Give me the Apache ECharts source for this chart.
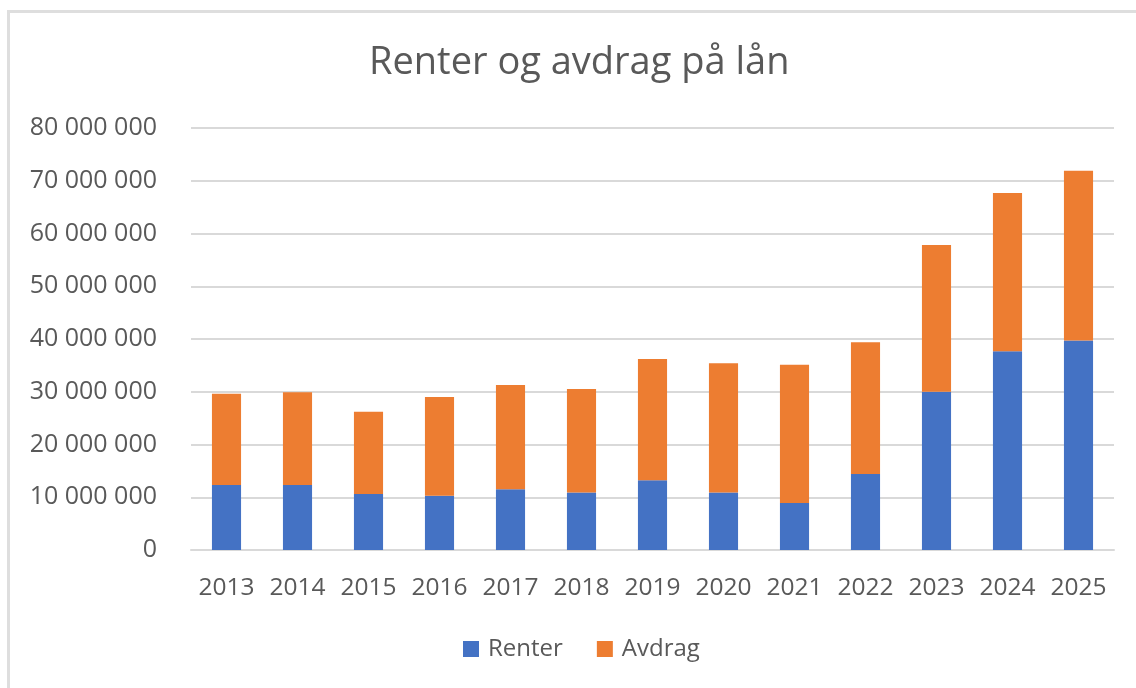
<!DOCTYPE html>
<html>
<head>
<meta charset="utf-8">
<script src="https://cdn.jsdelivr.net/npm/echarts@6/dist/echarts.min.js"></script>
<style>
  html, body { margin: 0; padding: 0; background: #fff; }
  #frame {
    position: absolute; left: 7px; top: 10px; width: 1200px; height: 700px;
    border-top: 3px solid #dedede; border-left: 3px solid #dedede;
  }
  #chart { position: absolute; left: 0; top: 0; width: 1136px; height: 688px; }
</style>
</head>
<body>
<div id="frame"></div>
<div id="chart"></div>
<script>
const years = ["2013", "2014", "2015", "2016", "2017", "2018", "2019", "2020", "2021", "2022", "2023", "2024", "2025"]
const renter = [12.3, 12.3, 10.6, 10.3, 11.5, 10.9, 13.2, 10.9, 8.9, 14.4, 30.0, 37.7, 39.7].map(v => v * 1e6)
const avdrag = [17.3, 17.6, 15.6, 18.7, 19.8, 19.6, 23.0, 24.5, 26.2, 25.0, 27.8, 30.0, 32.2].map(v => v * 1e6)

const font = "'Open Sans', 'DejaVu Sans', sans-serif"
const grey = "#595959"

// tall med mellomrom som tusenskille
function fmt(v) {
  return String(v).replace(/\B(?=(\d{3})+(?!\d))/g, " ")
}

const chart = echarts.init(document.getElementById("chart"))
chart.setOption({
  backgroundColor: "transparent",
  animation: false,
  title: {
    text: "Renter og avdrag på lån",
    left: 364,
    top: 39,
    textStyle: { fontFamily: font, fontSize: 38, fontWeight: "normal", color: grey }
  },
  legend: {
    data: ["Renter", "Avdrag"],
    bottom: 22,
    left: 458,
    icon: "rect",
    itemWidth: 16,
    itemHeight: 16,
    itemGap: 34,
    textStyle: { fontFamily: font, fontSize: 24, color: grey, padding: [0, 0, 0, 4] }
  },
  grid: { left: 191, right: 22, top: 128, bottom: 138 },
  xAxis: {
    type: "category",
    data: years,
    axisLine: { lineStyle: { color: "#d9d9d9", width: 2 } },
    axisTick: { show: false },
    axisLabel: { fontFamily: font, fontSize: 24.5, color: grey, margin: 26, interval: 0 }
  },
  yAxis: {
    type: "value",
    min: 0,
    max: 80000000,
    interval: 10000000,
    axisLine: { show: false },
    axisTick: { show: false },
    splitLine: { lineStyle: { color: "#d9d9d9", width: 2 } },
    axisLabel: { fontFamily: font, fontSize: 25, color: grey, margin: 34, formatter: fmt }
  },
  series: [
    {
      name: "Renter",
      type: "bar",
      stack: "total",
      barWidth: "41%",
      data: renter,
      itemStyle: { color: "#4472C4" }
    },
    {
      name: "Avdrag",
      type: "bar",
      stack: "total",
      data: avdrag,
      itemStyle: { color: "#ED7D31" }
    }
  ]
})
</script>
</body>
</html>
